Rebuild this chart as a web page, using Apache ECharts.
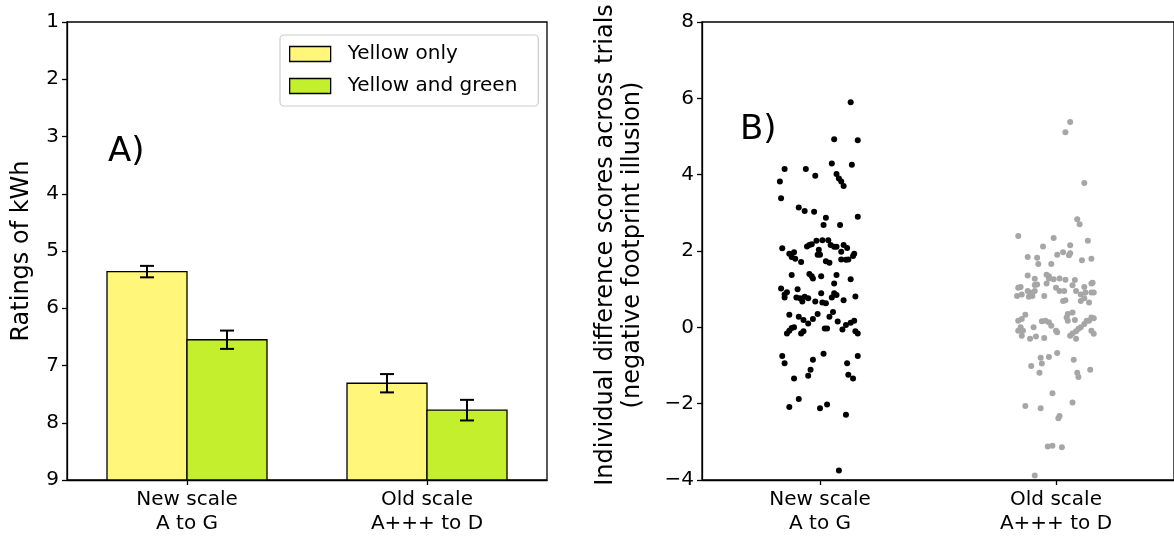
<!DOCTYPE html>
<html>
<head>
<meta charset="utf-8">
<script src="https://cdn.jsdelivr.net/npm/echarts@6/dist/echarts.min.js"></script>
<style>
html,body{margin:0;padding:0;background:#fff;}
#chart{width:1174px;height:536px;}
</style>
</head>
<body>
<div id="chart"></div>
<script>
// ---------- Panel A data ----------
const barCategories = ['New scale\nA to G', 'Old scale\nA+++ to D'];
const seriesNames = ['Yellow only', 'Yellow and green'];
const yellowOnly = [5.36, 7.31];
const yellowOnlyErr = [0.10, 0.16];
const yellowGreen = [6.55, 7.78];
const yellowGreenErr = [0.16, 0.18];
const ratingTicks = [1, 9, 1]; // min, max, step

// ---------- Panel B data ----------
const scatterCategories = ['New scale\nA to G', 'Old scale\nA+++ to D'];
const newScaleScores = [5.90,4.93,4.90,4.15,4.15,4.29,4.26,3.82,3.97,4.02,3.90,3.82,3.70,3.38,3.14,3.05,3.03,2.87,2.90,2.68,2.68,
  2.07,1.93,1.97,1.84,1.80,1.71,2.12,2.16,2.18,2.27,2.03,1.90,1.90,2.28,2.28,2.16,2.11,1.73,1.69,2.11,2.16,2.08,1.98,1.78,1.77,1.78,1.93,1.87,
  1.37,1.40,1.34,1.28,1.34,1.37,1.15,1.26,1.02,0.86,0.78,0.92,1.00,0.78,0.76,0.68,0.80,0.76,0.68,0.89,0.65,0.63,0.78,0.89,0.85,0.71,0.81,
  0.33,0.28,0.19,0.10,0.22,0.35,0.28,0.40,0.15,-0.02,-0.09,-0.16,0.00,-0.16,-0.10,-0.03,-0.03,-0.06,0.06,0.12,0.17,-0.10,-0.16,
  -0.75,-0.94,-1.34,-1.27,-1.11,-0.85,-0.69,-0.94,-1.24,-1.34,-0.75,-2.09,-1.88,-2.12,-2.02,-2.29,-3.75];
const newScaleJitter = [0.13,0.06,0.16,-0.15,-0.06,0.05,0.135,-0.17,-0.02,0.07,0.08,0.09,0.10,-0.165,-0.09,-0.065,-0.025,0.025,0.16,0.015,0.085,
  -0.16,-0.13,-0.11,-0.12,-0.105,-0.08,-0.055,-0.045,-0.035,-0.015,-0.005,-0.01,0.0,0.01,0.035,0.045,0.06,0.025,0.04,0.07,0.10,0.115,0.09,0.09,0.11,0.12,0.145,0.14,
  -0.12,-0.045,-0.035,-0.03,0.005,0.07,0.06,0.13,-0.165,-0.15,-0.15,-0.14,-0.095,-0.10,-0.085,-0.075,-0.065,-0.05,-0.02,0.005,0.01,0.025,0.05,0.06,0.07,0.10,0.15,
  -0.13,-0.09,-0.07,-0.05,-0.03,-0.01,0.04,0.055,0.075,-0.12,-0.13,-0.14,-0.11,-0.08,-0.07,0.02,0.03,0.095,0.11,0.13,0.145,0.15,0.16,
  -0.16,-0.15,-0.11,-0.05,-0.04,-0.03,0.015,0.115,0.12,0.14,0.16,-0.13,-0.09,0.0,0.03,0.11,0.08];
const oldScaleScores = [5.38,5.11,3.78,2.83,2.70,2.39,2.34,2.27,2.12,2.15,1.84,1.82,1.66,1.90,1.97,1.89,1.94,1.66,1.76,1.80,
  1.36,1.27,1.38,1.34,1.28,1.26,1.28,1.25,1.15,1.24,1.15,1.11,1.10,1.06,1.06,1.04,1.04,
  0.82,0.86,0.95,0.91,0.80,0.82,0.95,1.12,0.82,0.95,0.95,0.69,0.71,0.95,0.86,0.91,0.91,0.91,0.76,0.69,0.65,1.17,
  0.33,0.17,0.22,0.00,-0.09,-0.09,-0.22,-0.30,0.00,-0.24,-0.28,0.16,0.17,0.13,0.04,-0.09,-0.13,0.26,0.35,0.39,0.17,0.19,
  -0.22,-0.16,-0.10,-0.04,0.00,0.09,0.17,0.26,0.24,0.17,-0.30,-0.09,-0.17,
  -0.67,-0.78,-0.80,-0.95,-1.01,-1.19,-0.85,-1.19,-1.30,-1.11,-1.73,-2.06,-2.12,-1.97,-2.32,-2.38,-3.12,-3.10,-3.14,-3.88];
const oldScaleJitter = [0.06,0.04,0.12,0.09,0.10,-0.16,-0.01,0.135,-0.055,0.06,-0.12,-0.08,-0.075,0.005,0.03,0.055,0.06,-0.02,0.11,0.15,
  -0.12,-0.09,-0.04,-0.03,-0.03,-0.01,0.015,0.04,-0.04,0.08,0.15,-0.09,0.07,0.12,-0.15,0.0,-0.16,
  -0.165,-0.145,-0.12,-0.11,-0.115,-0.10,-0.09,-0.08,-0.05,0.015,0.035,0.03,0.04,0.085,0.105,0.125,0.15,0.16,0.12,0.105,0.14,0.155,
  -0.13,-0.16,-0.145,-0.15,-0.16,-0.14,-0.145,-0.11,-0.095,-0.085,-0.05,-0.06,-0.045,-0.03,-0.02,0.0,0.005,0.045,0.05,0.07,0.05,0.08,
  0.06,0.07,0.085,0.095,0.105,0.12,0.13,0.15,0.16,0.14,0.085,0.15,0.16,
  0.005,-0.03,-0.065,-0.06,-0.105,-0.07,0.075,0.09,0.095,0.145,-0.015,-0.13,-0.065,0.07,0.015,0.01,-0.035,-0.015,0.025,-0.09];
const scoreTicks = [-4, 8, 2]; // min, max, step

// ---------- styles ----------
const FONT = 'DejaVu Sans';
const YELLOW = '#fff67a';
const GREEN = '#c3ef2c';
const LINE_W = 1.3;

const chart = echarts.init(document.getElementById('chart'), null, {renderer: 'canvas'});

function barRenderer(sign, color) {
  return function (params, api) {
    const cat = api.value(0), v = api.value(1);
    const band = api.size([1, 0])[0];
    const w = band / 3;
    const top = api.coord([cat, v]);
    const base = api.coord([cat, ratingTicks[1]]);
    const cx = top[0] + sign * w / 2;
    return {
      type: 'rect',
      shape: {x: cx - w / 2, y: Math.min(top[1], base[1]), width: w, height: Math.abs(base[1] - top[1])},
      style: {fill: color, stroke: '#000', lineWidth: LINE_W}
    };
  };
}
function errRenderer(sign) {
  return function (params, api) {
    const cat = api.value(0), v = api.value(1), e = api.value(2);
    const band = api.size([1, 0])[0];
    const w = band / 3;
    const p1 = api.coord([cat, v - e]);
    const p2 = api.coord([cat, v + e]);
    const cx = p1[0] + sign * w / 2;
    const cap = 7;
    const st = {stroke: '#000', lineWidth: 2};
    return {
      type: 'group',
      children: [
        {type: 'line', shape: {x1: cx, y1: p1[1], x2: cx, y2: p2[1]}, style: st},
        {type: 'line', shape: {x1: cx - cap, y1: p1[1], x2: cx + cap, y2: p1[1]}, style: st},
        {type: 'line', shape: {x1: cx - cap, y1: p2[1], x2: cx + cap, y2: p2[1]}, style: st}
      ]
    };
  };
}

const axisLineStyle = {onZero: false, lineStyle: {color: '#000', width: LINE_W}};
const tickStyle = {show: true, length: 5, lineStyle: {color: '#000', width: LINE_W}};
const labelStyle = {color: '#000', fontSize: 20, fontFamily: FONT};

const newScatter = newScaleScores.map((v, i) => [0 + newScaleJitter[i], v]);
const oldScatter = oldScaleScores.map((v, i) => [1 + oldScaleJitter[i], v]);

const option = {
  animation: false,
  textStyle: {fontFamily: FONT},
  title: [
    {text: 'A)', left: 103, top: 130, textStyle: {fontSize: 34, fontWeight: 'normal', color: '#000', fontFamily: FONT}},
    {text: 'B)', left: 735, top: 108, textStyle: {fontSize: 34, fontWeight: 'normal', color: '#000', fontFamily: FONT}}
  ],
  legend: {
    data: seriesNames.map((n, i) => ({name: n, itemStyle: {color: i === 0 ? YELLOW : GREEN, borderColor: '#000', borderWidth: LINE_W}})),
    orient: 'vertical',
    left: 280, top: 35,
    icon: 'rect',
    itemWidth: 41, itemHeight: 15, itemGap: 12,
    padding: [9, 21, 10, 9],
    backgroundColor: '#fff',
    borderColor: '#cccccc', borderWidth: 1.2, borderRadius: 4,
    textStyle: {fontSize: 20, color: '#000', fontFamily: FONT, padding: [0, 0, 0, 12]}
  },
  grid: [
    {left: 67, right: 627, top: 22, bottom: 52, show: true, borderColor: '#000', borderWidth: LINE_W},
    {left: 702, right: -8, top: 22, bottom: 52, show: true, borderColor: '#000', borderWidth: LINE_W}
  ],
  xAxis: [
    {
      gridIndex: 0, type: 'category', data: barCategories,
      axisLine: axisLineStyle,
      axisTick: Object.assign({alignWithLabel: true}, tickStyle),
      axisLabel: Object.assign({margin: 8, lineHeight: 24}, labelStyle),
      splitLine: {show: false}
    },
    {
      gridIndex: 1, type: 'value', min: -0.5, max: 1.5,
      axisLine: axisLineStyle,
      axisTick: Object.assign({customValues: [0, 1]}, tickStyle),
      axisLabel: Object.assign({margin: 8, lineHeight: 24, customValues: [0, 1],
        formatter: v => scatterCategories[Math.round(v)]}, labelStyle),
      splitLine: {show: false}
    }
  ],
  yAxis: [
    {
      gridIndex: 0, type: 'value', inverse: true,
      min: ratingTicks[0], max: ratingTicks[1], interval: ratingTicks[2],
      name: 'Ratings of kWh', nameLocation: 'middle', nameGap: 33, nameRotate: 90,
      nameTextStyle: {fontSize: 24, color: '#000', fontFamily: FONT},
      axisLine: Object.assign({show: true}, axisLineStyle),
      axisTick: tickStyle,
      axisLabel: Object.assign({margin: 8}, labelStyle),
      splitLine: {show: false}
    },
    {
      gridIndex: 1, type: 'value',
      min: scoreTicks[0], max: scoreTicks[1], interval: scoreTicks[2],
      name: 'Individual difference scores across trials\n(negative footprint illusion)',
      nameLocation: 'middle', nameGap: 56, nameRotate: 90,
      nameTextStyle: {fontSize: 24, color: '#000', fontFamily: FONT, lineHeight: 27, padding: [0, 0, 0, 12]},
      axisLine: Object.assign({show: true}, axisLineStyle),
      axisTick: tickStyle,
      axisLabel: Object.assign({margin: 8, formatter: v => String(v).replace('-', '\u2212')}, labelStyle),
      splitLine: {show: false}
    }
  ],
  series: [
    {
      name: seriesNames[0], type: 'custom', xAxisIndex: 0, yAxisIndex: 0,
      itemStyle: {color: YELLOW, borderColor: '#000', borderWidth: LINE_W},
      renderItem: barRenderer(-1, YELLOW),
      data: yellowOnly.map((v, i) => [i, v]), z: 2
    },
    {
      name: seriesNames[1], type: 'custom', xAxisIndex: 0, yAxisIndex: 0,
      itemStyle: {color: GREEN, borderColor: '#000', borderWidth: LINE_W},
      renderItem: barRenderer(1, GREEN),
      data: yellowGreen.map((v, i) => [i, v]), z: 2
    },
    {
      name: 'errY', type: 'custom', xAxisIndex: 0, yAxisIndex: 0,
      renderItem: errRenderer(-1),
      data: yellowOnly.map((v, i) => [i, v, yellowOnlyErr[i]]), z: 3
    },
    {
      name: 'errG', type: 'custom', xAxisIndex: 0, yAxisIndex: 0,
      renderItem: errRenderer(1),
      data: yellowGreen.map((v, i) => [i, v, yellowGreenErr[i]]), z: 3
    },
    {
      name: 'new', type: 'scatter', xAxisIndex: 1, yAxisIndex: 1,
      symbolSize: 6, itemStyle: {color: '#000', opacity: 1},
      data: newScatter
    },
    {
      name: 'old', type: 'scatter', xAxisIndex: 1, yAxisIndex: 1,
      symbolSize: 6, itemStyle: {color: '#a6a6a6', opacity: 1},
      data: oldScatter
    }
  ]
};
chart.setOption(option);
</script>
</body>
</html>
